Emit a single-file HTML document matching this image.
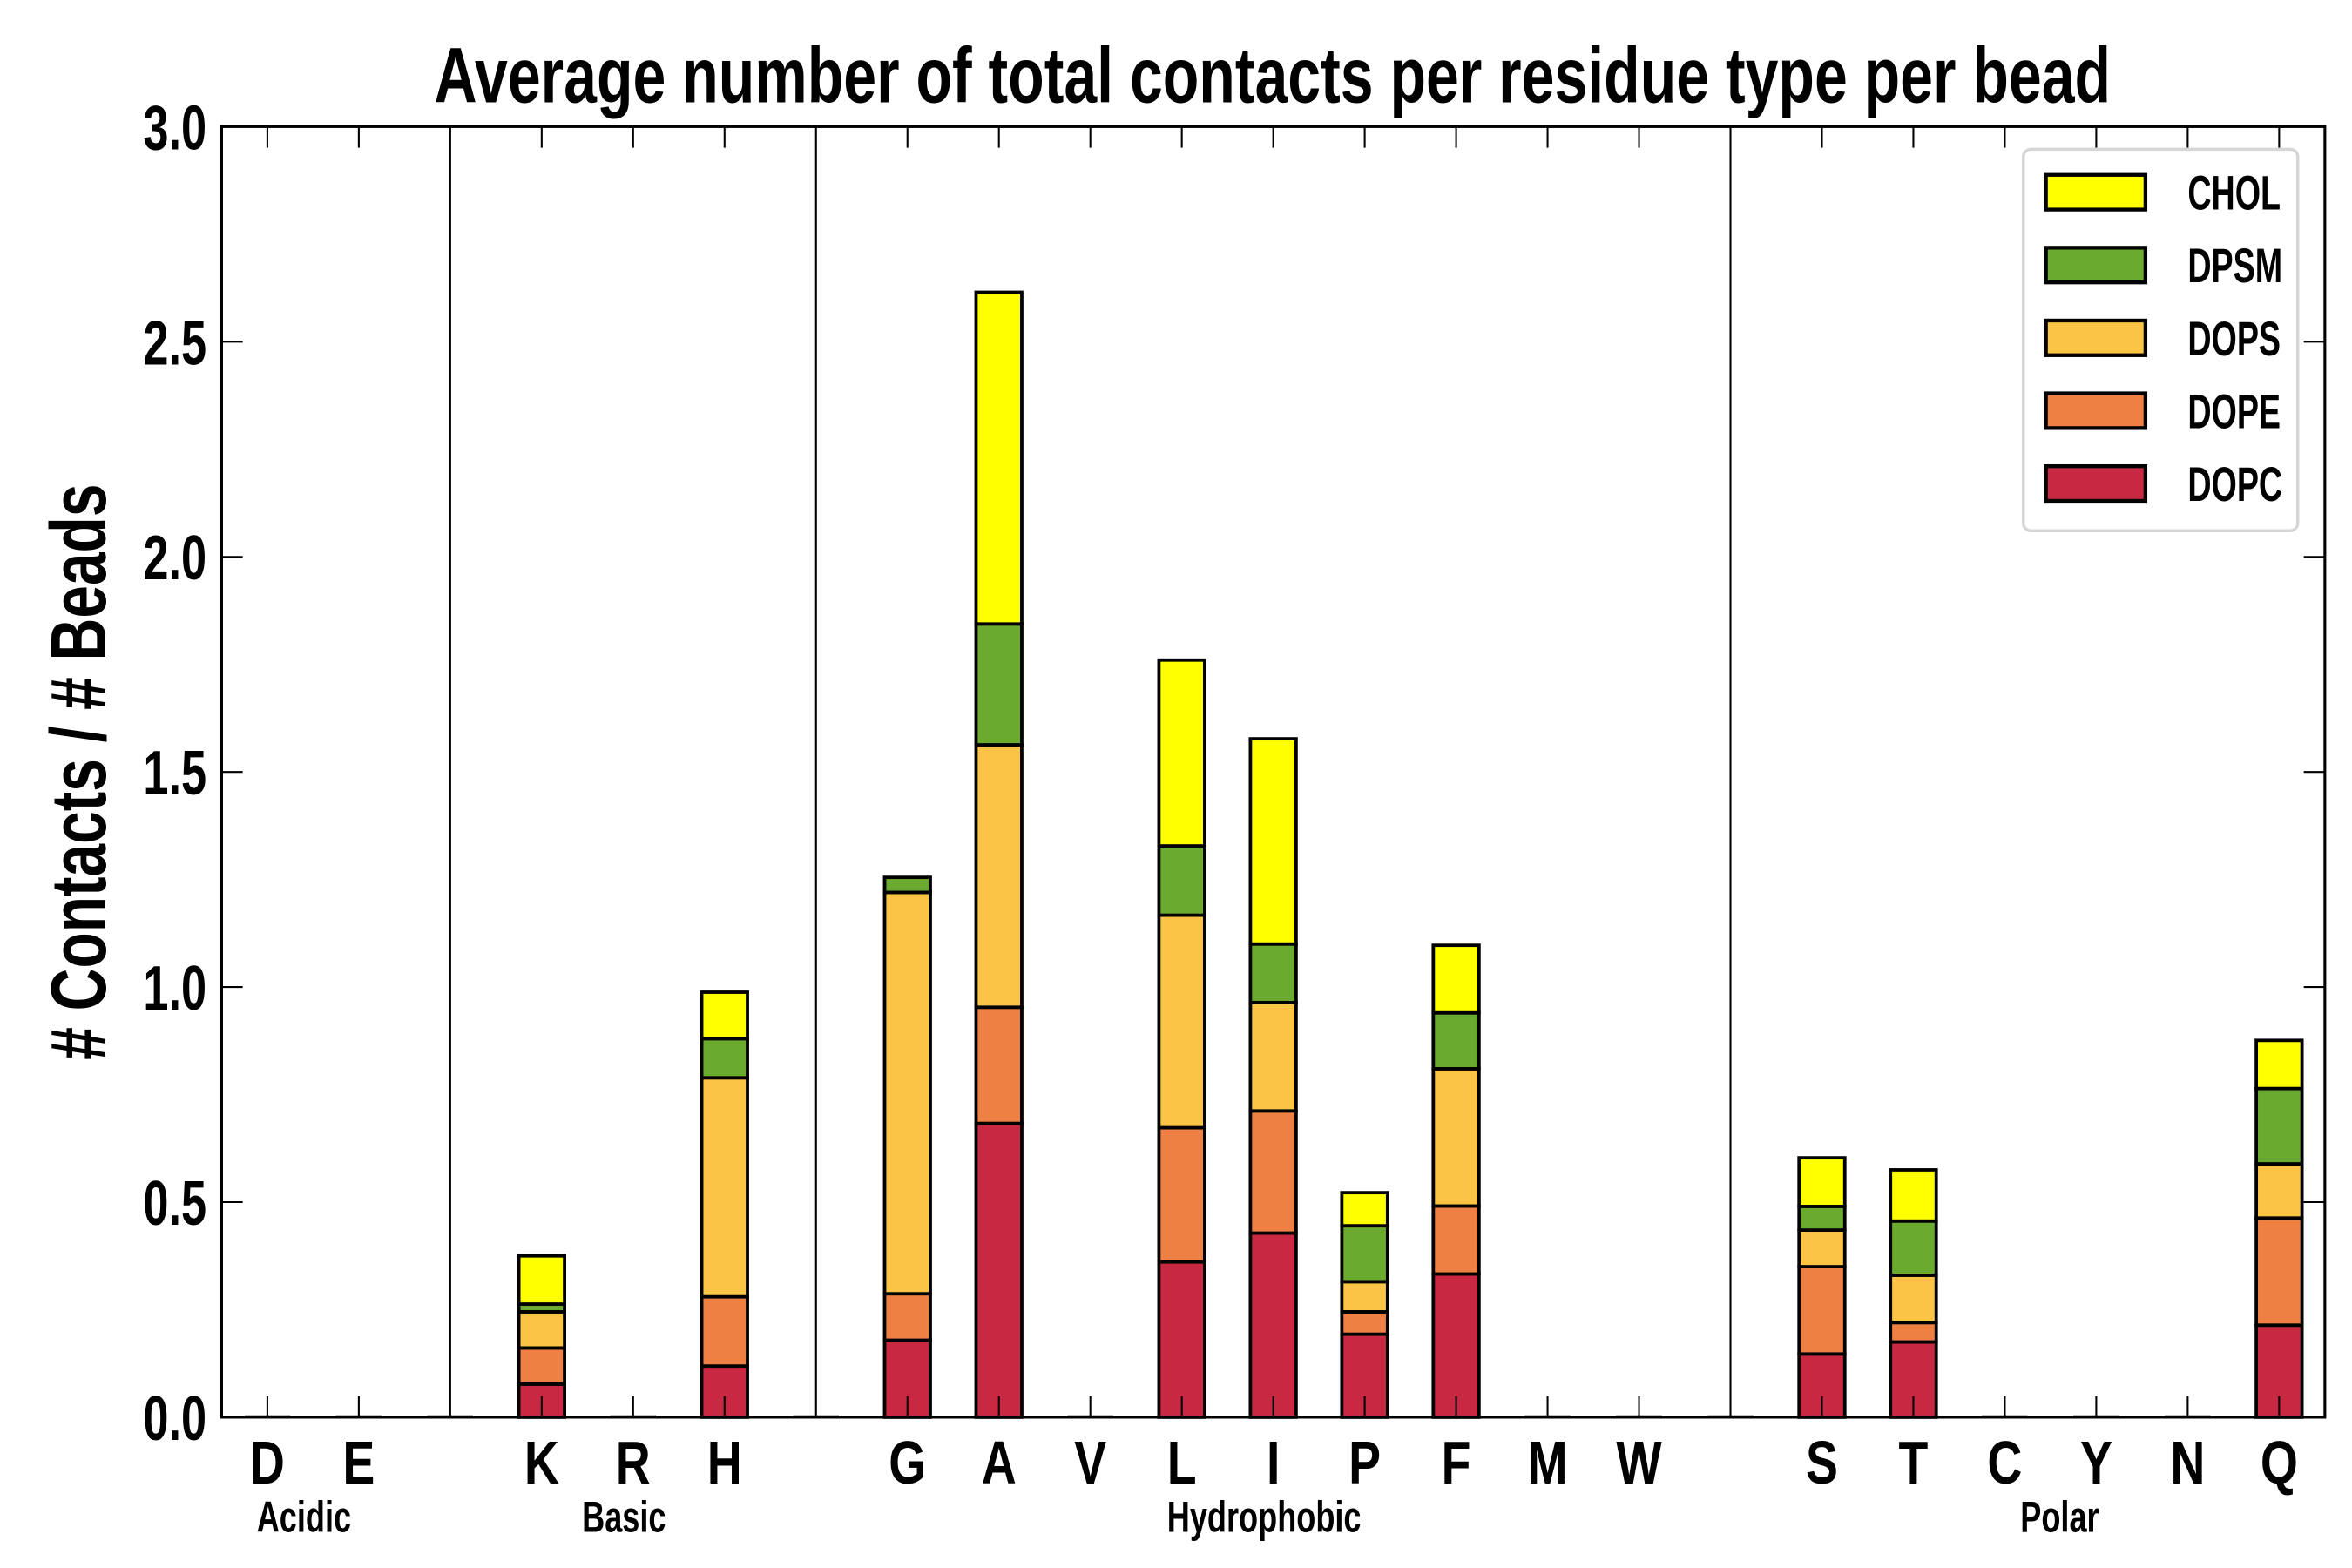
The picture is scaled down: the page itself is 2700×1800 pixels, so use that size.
<!DOCTYPE html>
<html><head><meta charset="utf-8"><style>
html,body{margin:0;padding:0;background:#fff}
svg{display:block}
text{font-family:"Liberation Sans Narrow","Liberation Sans",sans-serif;font-weight:bold;fill:#000}
</style></head><body>
<svg id="chart" width="2700" height="1800" viewBox="0 0 1560 1040" preserveAspectRatio="none" xmlns="http://www.w3.org/2000/svg">
<text x="844" y="68" font-size="52" text-anchor="middle" textLength="1112" lengthAdjust="spacingAndGlyphs">Average number of total contacts per residue type per bead</text>
<text transform="translate(70,512) rotate(-90)" font-size="52" text-anchor="middle" textLength="382" lengthAdjust="spacingAndGlyphs"># Contacts / # Beads</text>
<g id="plot"></g>
</svg>
<script>
const categories = ["D","E","K","R","H","G","A","V","L","I","P","F","M","W","S","T","C","Y","N","Q"];
const slots =      [0.5,1.5,3.5,4.5,5.5,7.5,8.5,9.5,10.5,11.5,12.5,13.5,14.5,15.5,17.5,18.5,19.5,20.5,21.5,22.5];
const seriesNames = ["DOPC","DOPE","DOPS","DPSM","CHOL"];
const DOPC = [0,0,0.077,0,0.119,0.179,0.683,0,0.361,0.428,0.193,0.333,0,0,0.147,0.175,0,0,0,0.214];
const DOPE = [0,0,0.084,0,0.161,0.108,0.270,0,0.312,0.284,0.052,0.158,0,0,0.203,0.045,0,0,0,0.249];
const DOPS = [0,0,0.084,0,0.509,0.933,0.610,0,0.494,0.252,0.070,0.319,0,0,0.085,0.110,0,0,0,0.126];
const DPSM = [0,0,0.018,0,0.091,0.035,0.281,0,0.161,0.136,0.130,0.130,0,0,0.055,0.126,0,0,0,0.175];
const CHOL = [0,0,0.112,0,0.108,0.000,0.771,0,0.432,0.477,0.077,0.157,0,0,0.113,0.119,0,0,0,0.112];
const colors = ["#c82842","#ee8044","#fbc444","#6aaa2e","#ffff00"];
const yTicks = ["0.0","0.5","1.0","1.5","2.0","2.5","3.0"];
const dividers = [2.5,6.5,16.5];
const groups = ["Acidic","Basic","Hydrophobic","Polar"];
const groupPos = [0.9,4.4,11.4,20.1];

const L=147,R=1542,T=84,B=940,XMAX=23,YMAX=3;
const sx=v=>L+(R-L)*v/XMAX;
const sy=v=>B-(B-T)*v/YMAX;
const NS="http://www.w3.org/2000/svg";
const g=document.getElementById('plot');
function mk(tag,attrs,parent){const e=document.createElementNS(NS,tag);for(const k in attrs)e.setAttribute(k,attrs[k]);(parent||g).appendChild(e);return e;}
function txt(x,y,size,anchor,sxf,parent){return mk('text',{transform:'translate('+x+','+y+') scale('+sxf+',1)','font-size':size,'text-anchor':anchor},parent);}

dividers.forEach(d=>{
  const ln=mk('line',{x1:sx(d),x2:sx(d),y1:T,y2:B,stroke:'#000','stroke-width':1.2});
  
  
  const z=mk('line',{x1:sx(d-0.25),x2:sx(d+0.25),y1:B-0.5,y2:B-0.5,stroke:'#000','stroke-width':1.5});
  
  
});

const series=[DOPC,DOPE,DOPS,DPSM,CHOL];
categories.forEach((c,i)=>{
  let cum=0;
  const x0=sx(slots[i]-0.25), w=sx(slots[i]+0.25)-x0;
  let total=series.reduce((a,s)=>a+s[i],0);
  if(total===0){
    const z=mk('line',{x1:x0,x2:x0+w,y1:B-0.5,y2:B-0.5,stroke:'#000','stroke-width':1.5});
    
    
    return;
  }
  series.forEach((s,k)=>{
    const v=s[i];
    if(v<=0){return;}
    const y1=sy(cum+v), y0=sy(cum);
    const r=mk('rect',{x:x0,y:y1,width:w,height:y0-y1,fill:colors[k],stroke:'#000','stroke-width':2.2});
    
    
    cum+=v;
  });
});

const fr=mk('rect',{x:L,y:T,width:R-L,height:B-T,fill:'none',stroke:'#000','stroke-width':1.8});



categories.forEach((c,i)=>{
  const x=sx(slots[i]);
  mk('line',{x1:x,x2:x,y1:T,y2:T+14,stroke:'#000','stroke-width':1.2});
  mk('line',{x1:x,x2:x,y1:B,y2:B-14,stroke:'#000','stroke-width':1.2});
  const t=txt(x,984,40,'middle',0.8);
  t.textContent=c;
  
  
});
groups.forEach((gname,i)=>{
  const t=txt(sx(groupPos[i]),1016,29,'middle',0.72);
  t.textContent=gname;
  
  
});
yTicks.forEach(lbl=>{
  const v=parseFloat(lbl), y=sy(v);
  mk('line',{x1:L,x2:L+14,y1:y,y2:y,stroke:'#000','stroke-width':1.2});
  mk('line',{x1:R,x2:R-14,y1:y,y2:y,stroke:'#000','stroke-width':1.2});
  const t=txt(137,y+15,42,'end',0.72);
  t.textContent=lbl;
  
  
});

const lg=mk('g',{});


mk('rect',{x:1342,y:99,width:182,height:253,rx:5,fill:'#fff',stroke:'#d6d6d6','stroke-width':2},lg);
const order=[4,3,2,1,0];
order.forEach((k,j)=>{
  const cy=127+j*48.3;
  const sw=mk('rect',{x:1357,y:cy-11,width:66,height:23,fill:colors[k],stroke:'#000','stroke-width':2.5},lg);
  
  
  const t=txt(1451,cy+12,32,'start',0.68,lg);
  t.textContent=seriesNames[k];
  
  
});
</script>
</body></html>
